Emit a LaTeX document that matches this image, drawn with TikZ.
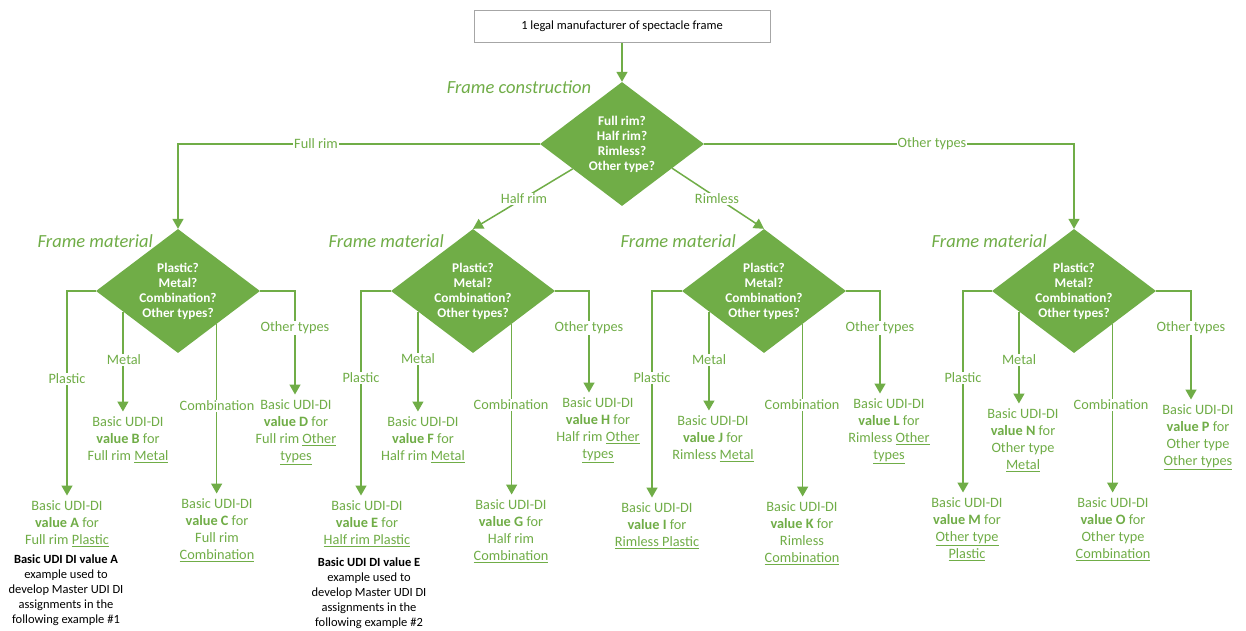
\documentclass[tikz,border=0pt]{standalone}
\usepackage{fontspec}
\setmainfont{Carlito}
\usetikzlibrary{shapes.geometric,arrows.meta,calc}
\definecolor{grn}{HTML}{70AD47}
\definecolor{boxgray}{HTML}{A6A6A6}
\begin{document}
\begin{tikzpicture}[x=1pt,y=-1pt,
  conn/.style={draw=grn,line width=1.5pt},
  arr/.style={conn,-{Triangle[length=10pt,width=11pt]}},
  dec/.style={diamond,fill=grn,draw=none,inner sep=0pt,minimum width=164pt,minimum height=124pt,aspect=1.32,text=white,font=\bfseries\fontsize{13.3}{15}\selectfont,align=center},
  res/.style={anchor=north,text=grn,align=center,font=\fontsize{14.3}{17}\selectfont,inner ysep=1pt,outer ysep=4pt,inner xsep=1pt},
  lbl/.style={fill=white,text=grn,font=\fontsize{14.3}{17}\selectfont,inner sep=1pt},
  notebox/.style={anchor=north,text=black,align=center,font=\fontsize{12.5}{15}\selectfont,inner sep=0pt},
  ttl/.style={text=grn,font=\itshape\fontsize{18.5}{22}\selectfont,inner sep=0pt},
  topbox/.style={draw=boxgray,line width=1pt,fill=white,minimum width=296pt,minimum height=32pt,font=\fontsize{12.5}{15}\selectfont}
]
\useasboundingbox[fill=white] (0,0) rectangle (1246,630);

% top
\node[topbox] (top) at (622,26.5) {1 legal manufacturer of spectacle frame};
\node[ttl] (tc) at (519,87) {Frame construction};
\node[dec] (d0) at (622,144) {Full rim?\\Half rim?\\Rimless?\\Other type?};

% material diamonds
\node[dec] (d1) at (178,291) {Plastic?\\Metal?\\Combination?\\Other types?};
\node[dec] (d2) at (473,291) {Plastic?\\Metal?\\Combination?\\Other types?};
\node[dec] (d3) at (764,291) {Plastic?\\Metal?\\Combination?\\Other types?};
\node[dec] (d4) at (1074,291) {Plastic?\\Metal?\\Combination?\\Other types?};
\node[ttl,anchor=east] (t1) at (153,241) {Frame material};
\node[ttl,anchor=east] (t2) at (444,241) {Frame material};
\node[ttl,anchor=east] (t3) at (736,241) {Frame material};
\node[ttl,anchor=east] (t4) at (1047,241) {Frame material};

% results
\node[res] (nA) at (67,495.5) {Basic UDI-DI\\\textbf{value A} for\\Full rim \underline{Plastic}};
\node[res] (nB) at (128,411.5) {Basic UDI-DI\\\textbf{value B} for\\Full rim \underline{Metal}};
\node[res] (nC) at (217,493.5) {Basic UDI-DI\\\textbf{value C} for\\Full rim\\\underline{Combination}};
\node[res] (nD) at (296,394.5) {Basic UDI-DI\\\textbf{value D} for\\Full rim \underline{Other}\\\underline{types}};
\node[res] (nE) at (367,495.5) {Basic UDI-DI\\\textbf{value E} for\\\underline{Half rim Plastic}};
\node[res] (nF) at (423,411.5) {Basic UDI-DI\\\textbf{value F} for\\Half rim \underline{Metal}};
\node[res] (nG) at (511,494.5) {Basic UDI-DI\\\textbf{value G} for\\Half rim\\\underline{Combination}};
\node[res] (nH) at (598,392.5) {Basic UDI-DI\\\textbf{value H} for\\Half rim \underline{Other}\\\underline{types}};
\node[res] (nI) at (657,497.5) {Basic UDI-DI\\\textbf{value I} for\\\underline{Rimless Plastic}};
\node[res] (nJ) at (713,410.5) {Basic UDI-DI\\\textbf{value J} for\\Rimless \underline{Metal}};
\node[res] (nK) at (802,496.5) {Basic UDI-DI\\\textbf{value K} for\\Rimless\\\underline{Combination}};
\node[res] (nL) at (889,393.5) {Basic UDI-DI\\\textbf{value L} for\\Rimless \underline{Other}\\\underline{types}};
\node[res] (nM) at (967,492.5) {Basic UDI-DI\\\textbf{value M} for\\\underline{Other type}\\\underline{Plastic}};
\node[res] (nN) at (1023,403.5) {Basic UDI-DI\\\textbf{value N} for\\Other type\\\underline{Metal}};
\node[res] (nO) at (1113,492.5) {Basic UDI-DI\\\textbf{value O} for\\Other type\\\underline{Combination}};
\node[res] (nP) at (1198,399.5) {Basic UDI-DI\\\textbf{value P} for\\Other type\\\underline{Other types}};

% notes
\node[notebox] (noteA) at (66,555) {\textbf{Basic UDI DI value A}\\example used to\\develop Master UDI DI\\assignments in the\\following example \#1};
\node[notebox] (noteE) at (369,558) {\textbf{Basic UDI DI value E}\\example used to\\develop Master UDI DI\\assignments in the\\following example \#2};

% main connectors
\draw[arr] (top.south) -- (d0.north);
\draw[arr] (d0.west) -| (d1.north);
\draw[arr] (d0.east) -| (d4.north);
\coordinate (h0) at ($(d0.west)!0.40!(d0.south)$);
\coordinate (r0) at ($(d0.south)!0.61!(d0.east)$);
\draw[arr] (h0) -- (d2.north);
\draw[arr] (r0) -- (d3.north);

% diamond 1
\coordinate (m1) at ($(d1.west)!0.33!(d1.south)$);
\coordinate (c1) at ($(d1.south)!0.47!(d1.east)$);
\draw[arr] (d1.west) -| (67,0 |- nA.north);
\draw[arr] (m1) -- (m1 |- nB.north);
\draw[arr] (c1) -- (c1 |- nC.north);
\draw[arr] (d1.east) -| (295,0 |- nD.north);
% diamond 2
\coordinate (m2) at ($(d2.west)!0.33!(d2.south)$);
\coordinate (c2) at ($(d2.south)!0.47!(d2.east)$);
\draw[arr] (d2.west) -| (361,0 |- nE.north);
\draw[arr] (m2) -- (m2 |- nF.north);
\draw[arr] (c2) -- (c2 |- nG.north);
\draw[arr] (d2.east) -| (589,0 |- nH.north);
% diamond 3
\coordinate (m3) at ($(d3.west)!0.33!(d3.south)$);
\coordinate (c3) at ($(d3.south)!0.47!(d3.east)$);
\draw[arr] (d3.west) -| (652,0 |- nI.north);
\draw[arr] (m3) -- (m3 |- nJ.north);
\draw[arr] (c3) -- (c3 |- nK.north);
\draw[arr] (d3.east) -| (880,0 |- nL.north);
% diamond 4
\coordinate (m4) at ($(d4.west)!0.33!(d4.south)$);
\coordinate (c4) at ($(d4.south)!0.47!(d4.east)$);
\draw[arr] (d4.west) -| (963,0 |- nM.north);
\draw[arr] (m4) -- (m4 |- nN.north);
\draw[arr] (c4) -- (c4 |- nO.north);
\draw[arr] (d4.east) -| (1191,0 |- nP.north);

% labels on connectors
\node[lbl] (lFull) at (316,144) {Full rim};
\node[lbl] (lOther) at (932,144) {Other types};
\node[lbl] (lHalf) at (524,199) {Half rim};
\node[lbl] (lRim) at (717,199) {Rimless};

\node[lbl] at (67,379) {Plastic};
\node[lbl] at (124,360) {Metal};
\node[lbl] at (217,406) {Combination};
\node[lbl] at (295,328) {Other types};

\node[lbl] at (361,378) {Plastic};
\node[lbl] at (418,359) {Metal};
\node[lbl] at (511,405) {Combination};
\node[lbl] at (589,328) {Other types};

\node[lbl] at (652,378) {Plastic};
\node[lbl] at (709,360) {Metal};
\node[lbl] at (802,405) {Combination};
\node[lbl] at (880,328) {Other types};

\node[lbl] at (963,378) {Plastic};
\node[lbl] at (1019,360) {Metal};
\node[lbl] at (1111,405) {Combination};
\node[lbl] at (1191,328) {Other types};
\end{tikzpicture}
\end{document}
